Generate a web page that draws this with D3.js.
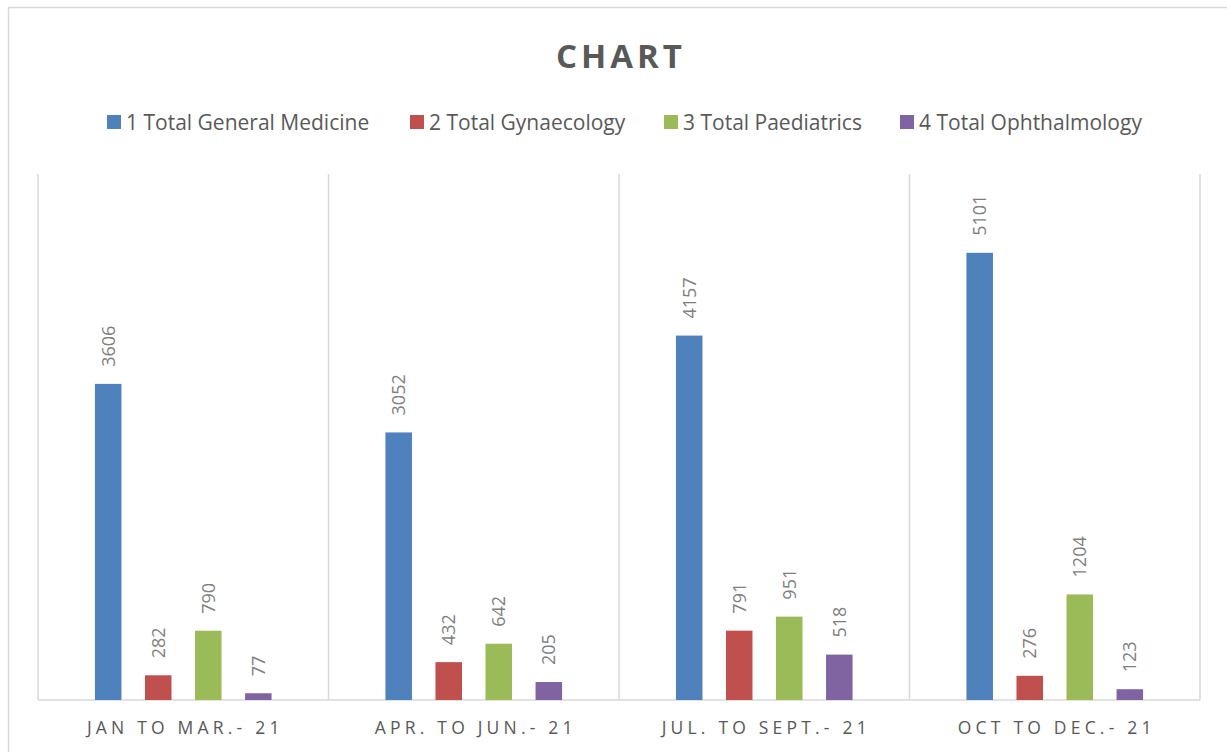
<!DOCTYPE html>
<html lang="en">
<head>
<meta charset="UTF-8">
<title>Chart</title>
<style>
    body { margin: 0; padding: 0; background: #fff; overflow: hidden; }
    text { font-family: "Open Sans", sans-serif; }
</style>
</head>
<body>
<div id="chart"></div>
<script src="https://d3js.org/d3.v7.min.js"></script>
<script>
    // chart data
    const categories = ["JAN TO MAR.- 21", "APR. TO JUN.- 21", "JUL. TO SEPT.- 21", "OCT TO DEC.- 21"];
    const seriesNames = ["1 Total General Medicine", "2 Total Gynaecology", "3 Total Paediatrics", "4 Total Ophthalmology"];
    const generalMedicine = [3606, 3052, 4157, 5101];
    const gynaecology = [282, 432, 791, 276];
    const paediatrics = [790, 642, 951, 1204];
    const ophthalmology = [77, 205, 518, 123];
    const colors = ["#4f81bd", "#c0504d", "#9bbb59", "#8064a2"];

    const seriesValues = [generalMedicine, gynaecology, paediatrics, ophthalmology];

    const width = 1227, height = 752;
    const plot = { left: 38, right: 1200, top: 174, bottom: 700 };

    const svg = d3.select("#chart").append("svg")
        .attr("width", width)
        .attr("height", height);

    // outer chart frame
    svg.append("rect")
        .attr("x", 8.5).attr("y", 7.5)
        .attr("width", 1240).attr("height", 780)
        .attr("fill", "#fff")
        .attr("stroke", "#d9d9d9")
        .attr("stroke-width", 1.5);

    const x0 = d3.scaleBand().domain(categories).range([plot.left, plot.right]).padding(0);
    const bw = x0.bandwidth();
    const x1 = d3.scaleBand().domain(seriesNames)
        .range([bw * 0.196, bw * 0.804])
        .paddingInner(0.47).paddingOuter(0);
    const y = d3.scaleLinear().domain([0, 6000]).range([plot.bottom, plot.top]);

    // vertical gridlines between categories
    const gridX = categories.map(c => x0(c)).concat([plot.right]);
    svg.append("g").selectAll("line")
        .data(gridX)
        .enter().append("line")
        .attr("x1", d => d).attr("x2", d => d)
        .attr("y1", plot.top).attr("y2", plot.bottom)
        .attr("stroke", "#d9d9d9")
        .attr("stroke-width", 1.5);

    // baseline
    svg.append("line")
        .attr("x1", plot.left).attr("x2", plot.right)
        .attr("y1", y(0)).attr("y2", y(0))
        .attr("stroke", "#d9d9d9")
        .attr("stroke-width", 1.5);

    // bars
    const groups = svg.append("g").selectAll("g")
        .data(categories)
        .enter().append("g")
        .attr("transform", d => `translate(${x0(d)},0)`);

    const barData = (c, i) => seriesNames.map((s, k) => ({ s, k, v: seriesValues[k][i] }));

    groups.selectAll("rect")
        .data(barData)
        .enter().append("rect")
        .attr("x", d => x1(d.s))
        .attr("width", x1.bandwidth())
        .attr("y", d => y(d.v))
        .attr("height", d => y(0) - y(d.v))
        .attr("fill", d => colors[d.k]);

    // rotated value labels
    groups.selectAll("text.val")
        .data(barData)
        .enter().append("text")
        .attr("class", "val")
        .attr("transform", d => `translate(${x1(d.s) + x1.bandwidth() / 2 + 6.5},${y(d.v) - 17}) rotate(-90)`)
        .attr("font-size", "18px")
        .attr("fill", "#7f7f7f")
        .text(d => d.v);

    // category labels
    svg.append("g").selectAll("text")
        .data(categories)
        .enter().append("text")
        .attr("x", d => x0(d) + bw / 2 + 2)
        .attr("y", 734)
        .attr("text-anchor", "middle")
        .attr("font-size", "17.5px")
        .attr("letter-spacing", "4.2px")
        .attr("fill", "#595959")
        .text(d => d);

    // title
    svg.append("text")
        .attr("x", 621)
        .attr("y", 68)
        .attr("text-anchor", "middle")
        .attr("font-size", "33px")
        .attr("font-weight", "bold")
        .attr("letter-spacing", "4px")
        .attr("fill", "#595959")
        .text("CHART");

    // legend
    const legendX = [107, 410, 664, 900];
    const legend = svg.append("g").selectAll("g")
        .data(seriesNames)
        .enter().append("g")
        .attr("transform", (d, i) => `translate(${legendX[i]},115)`);

    legend.append("rect")
        .attr("width", 14).attr("height", 14)
        .attr("fill", (d, i) => colors[i]);

    legend.append("text")
        .attr("x", 19)
        .attr("y", 14.5)
        .attr("font-size", "21px")
        .attr("fill", "#595959")
        .text(d => d);
</script>
</body>
</html>
